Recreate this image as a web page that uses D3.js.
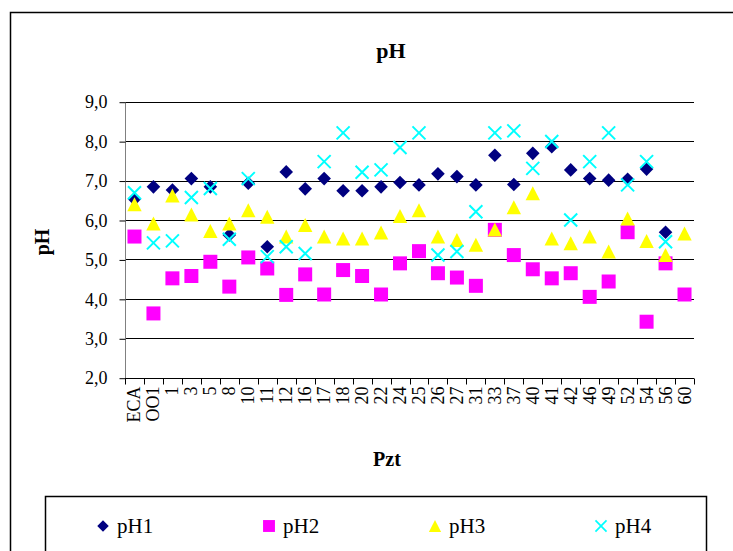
<!DOCTYPE html>
<html>
<head>
<meta charset="utf-8">
<script src="https://cdn.jsdelivr.net/npm/d3@7"></script>
<style>
	body { margin: 0; background: #fff; }
	svg { display: block; }
	svg text { font-family: 'Liberation Serif', 'Times New Roman', serif; }
</style>
</head>
<body>
<svg id="chart" width="733" height="551"></svg>
<script>
var CATEGORIES = ["ECA", "OO1", "1", "3", "5", "8", "10", "11", "12", "16", "17", "18", "20", "22", "24",
	"25", "26", "27", "31", "33", "37", "40", "41", "42", "46", "49", "52", "54", "56", "60"];

var PH1 = [6.53, 6.84, 6.76, 7.05, 6.84, 5.62, 6.93, 5.32, 7.22, 6.79, 7.05, 6.74, 6.74, 6.84, 6.95,
	6.89, 7.17, 7.10, 6.89, 7.64, 6.90, 7.69, 7.86, 7.27, 7.05, 7.01, 7.03, 7.29, 5.69, null];
var PH2 = [5.58, 3.63, 4.52, 4.58, 4.94, 4.31, 5.05, 4.77, 4.10, 4.62, 4.11, 4.73, 4.58, 4.11, 4.90,
	5.21, 4.65, 4.54, 4.33, 5.75, 5.11, 4.75, 4.52, 4.65, 4.05, 4.44, 5.69, 3.42, 4.90, 4.11];
var PH3 = [6.40, 5.91, 6.62, 6.14, 5.72, 5.91, 6.25, 6.08, 5.58, 5.87, 5.58, 5.53, 5.53, 5.68, 6.10,
	6.25, 5.58, 5.49, 5.37, 5.76, 6.32, 6.68, 5.53, 5.41, 5.58, 5.20, 6.04, 5.47, 5.11, 5.66];
var PH4 = [6.69, 5.42, 5.47, 6.57, 6.80, 5.51, 7.05, 5.07, 5.32, 5.15, 7.48, 8.21, 7.21, 7.27, 7.84,
	8.21, 5.11, 5.20, 6.21, 8.21, 8.26, 7.31, 7.99, 6.00, 7.48, 8.21, 6.89, 7.48, 5.45, null];

var SERIES_NAMES = ["pH1", "pH2", "pH3", "pH4"];
var Y_TICKS = [2, 3, 4, 5, 6, 7, 8, 9];

var FONT = "Liberation Serif";
var svg = d3.select("#chart").attr("font-family", FONT);

// marker shapes, centred on 0,0
var shapes = {
	pH1: { d: "M0,-6.8L6.8,0L0,6.8L-6.8,0Z", fill: "#000080", stroke: "none" },
	pH2: { d: "M-7,-7H7V7H-7Z", fill: "#ff00ff", stroke: "none" },
	pH3: { d: "M0,-7L7.2,7H-7.2Z", fill: "#ffff00", stroke: "none" },
	pH4: { d: "M-6.5,-6.5L6.5,6.5M6.5,-6.5L-6.5,6.5", fill: "none", stroke: "#00ffff" }
};
var seriesData = { pH1: PH1, pH2: PH2, pH3: PH3, pH4: PH4 };

// outer frame
svg.append("rect")
	.attr("x", 10.5).attr("y", 12.5)
	.attr("width", 760).attr("height", 600)
	.attr("fill", "none").attr("stroke", "#000").attr("stroke-width", 1.5);

var x = d3.scaleBand().domain(CATEGORIES).range([125, 694]).padding(0);
var y = d3.scaleLinear().domain([2, 9]).range([377.7, 101.7]);

// gridlines
svg.append("g").selectAll("line")
	.data(Y_TICKS.slice(1))
	.join("line")
	.attr("x1", 125).attr("x2", 694)
	.attr("y1", d => Math.round(y(d)) + 0.5).attr("y2", d => Math.round(y(d)) + 0.5)
	.attr("stroke", "#000").attr("stroke-width", 1);

// y axis
var yAxis = svg.append("g")
	.attr("transform", "translate(125.5,0.5)")
	.call(d3.axisLeft(y).tickValues(Y_TICKS).tickSize(6).tickPadding(12)
		.tickFormat(d => d3.format(".1f")(d).replace(".", ",")));
yAxis.attr("font-family", FONT).attr("font-size", 18);
yAxis.select(".domain").attr("stroke", "#808080").attr("d", "M0," + y(9) + "V" + y(2));
yAxis.selectAll(".tick line").attr("stroke", "#000");
yAxis.selectAll(".tick text")
	.attr("font-family", FONT).attr("font-size", 18).attr("fill", "#000");

// x axis
var xAxis = svg.append("g")
	.attr("transform", "translate(0," + (Math.round(y(2)) + 0.5) + ")");
xAxis.append("line")
	.attr("x1", 125).attr("x2", 694).attr("stroke", "#000");
xAxis.selectAll(".xt")
	.data(CATEGORIES.concat([null]))
	.join("line")
	.attr("class", "xt")
	.attr("x1", (d, i) => Math.round(125 + i * x.bandwidth()) + 0.5)
	.attr("x2", (d, i) => Math.round(125 + i * x.bandwidth()) + 0.5)
	.attr("y1", 0).attr("y2", 6)
	.attr("stroke", "#000");
xAxis.selectAll(".xl")
	.data(CATEGORIES)
	.join("text")
	.attr("class", "xl")
	.attr("transform", d => "translate(" + (x(d) + x.bandwidth() / 2 + 6) + ",8) rotate(-90)")
	.attr("text-anchor", "end")
	.attr("font-family", FONT)
	.attr("font-size", 18)
	.text(d => d);

// points
SERIES_NAMES.forEach(function(name) {
	var s = shapes[name];
	svg.append("g").selectAll("path")
		.data(seriesData[name].map((v, i) => ({ c: CATEGORIES[i], v: v })).filter(p => p.v != null))
		.join("path")
		.attr("transform", p => "translate(" + (x(p.c) + x.bandwidth() / 2) + "," + y(p.v) + ")")
		.attr("d", s.d)
		.attr("fill", s.fill)
		.attr("stroke", s.stroke)
		.attr("stroke-width", 2);
});

// titles
svg.append("text")
	.attr("x", 391).attr("y", 58)
	.attr("text-anchor", "middle")
	.attr("font-family", FONT)
	.attr("font-weight", "bold").attr("font-size", 22)
	.text("pH");
svg.append("text")
	.attr("transform", "translate(49,242) rotate(-90)")
	.attr("text-anchor", "middle")
	.attr("font-family", FONT)
	.attr("font-weight", "bold").attr("font-size", 20)
	.text("pH");
svg.append("text")
	.attr("x", 387).attr("y", 466)
	.attr("text-anchor", "middle")
	.attr("font-family", FONT)
	.attr("font-weight", "bold").attr("font-size", 20)
	.text("Pzt");

// legend
svg.append("rect")
	.attr("x", 45.5).attr("y", 496.5)
	.attr("width", 661).attr("height", 100)
	.attr("fill", "none").attr("stroke", "#000").attr("stroke-width", 1.5);

var legendX = d3.scalePoint().domain(SERIES_NAMES).range([103, 601]);
var item = svg.append("g").selectAll("g")
	.data(SERIES_NAMES)
	.join("g")
	.attr("transform", d => "translate(" + legendX(d) + ",526)");
item.append("path")
	.attr("d", d => shapes[d].d)
	.attr("transform", "scale(0.85)")
	.attr("fill", d => shapes[d].fill)
	.attr("stroke", d => shapes[d].stroke)
	.attr("stroke-width", 2);
item.append("text")
	.attr("x", 14).attr("y", 7)
	.attr("font-family", FONT)
	.attr("font-size", 21)
	.text(d => d);
</script>
</body>
</html>
